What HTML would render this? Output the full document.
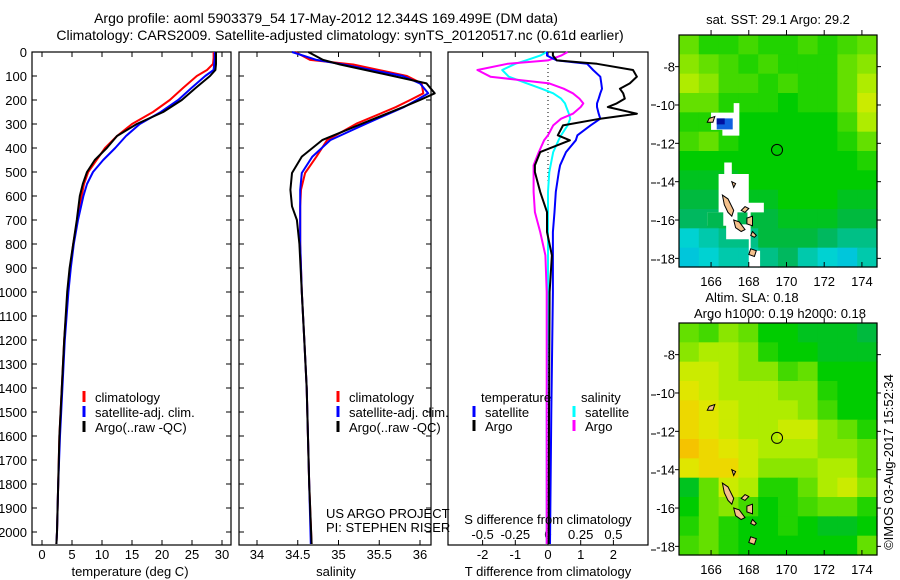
<!DOCTYPE html>
<html><head><meta charset="utf-8">
<style>
html,body{margin:0;padding:0;background:#fff;}
svg{display:block;font-family:"Liberation Sans",sans-serif;}
</style></head>
<body>
<svg id="fig" width="900" height="580" viewBox="0 0 900 580">
<text x="326" y="23" font-size="14" text-anchor="middle">Argo profile: aoml 5903379_54 17-May-2012 12.344S 169.499E (DM data)</text>
<text x="340" y="40" font-size="14" text-anchor="middle">Climatology: CARS2009. Satellite-adjusted climatology: synTS_20120517.nc (0.61d earlier)</text>
<g id="p1"></g>
<g id="p2"></g>
<g id="p3"></g>
<g id="m1"></g>
<g id="m2"></g>
<text transform="translate(893,462) rotate(-90)" font-size="13" text-anchor="middle">©IMOS 03-Aug-2017 15:52:34</text>
</svg>
<script>
// ---- data ----
const tDepth = [0,25,50,75,100,150,200,250,300,350,400,450,500,550,600,700,800,900,1000,1200,1400,1600,1800,2000,2050];
const tClim = [28.6,28.6,28.5,27.5,25.8,23.5,21.3,18.5,15.0,12.5,10.5,9.1,7.7,7.0,6.6,5.9,5.2,4.7,4.3,3.7,3.3,2.9,2.7,2.5,2.4];
const tSat  = [28.8,28.8,28.7,28.6,27.2,24.9,22.7,19.8,16.3,14.0,12.2,10.2,8.5,7.5,6.9,6.0,5.3,4.8,4.4,3.8,3.4,3.0,2.7,2.5,2.4];
const tArgo = [29.0,29.0,29.0,28.9,28.0,25.6,23.3,20.2,15.8,12.5,10.8,8.8,7.5,6.8,6.3,5.8,5.2,4.6,4.2,3.7,3.3,2.9,2.7,2.5,2.4];
const sDepth = [0,33,52,100,131,172,200,230,297,367,436,504,574,643,700,800,1000,1200,1400,1800,2050];
const sClim = [34.47,34.65,35.18,35.84,36.02,36.04,35.88,35.70,35.23,34.86,34.73,34.59,34.54,34.53,34.53,34.53,34.55,34.58,34.61,34.64,34.67];
const sSat  = [34.43,34.73,35.06,35.79,36.00,36.10,35.96,35.80,35.35,34.90,34.68,34.55,34.53,34.53,34.53,34.53,34.55,34.58,34.61,34.64,34.66];
const sArgo = [34.63,34.81,35.02,35.67,36.08,36.18,36.00,35.79,35.30,34.80,34.55,34.43,34.41,34.43,34.49,34.52,34.55,34.58,34.61,34.64,34.67];
const dDepth = [0,15,35,49,75,103,131,153,172,194,214,229,257,278,306,347,368,417,472,500,583,667,750,847,1000,1500,2050];
const dTArgo = [0.15,0.15,0.27,1.5,2.6,2.72,2.5,2.2,2.3,2.35,2.1,1.83,2.72,1.6,0.46,0.3,0.67,-0.24,-0.4,-0.4,-0.24,-0.03,-0.03,0.12,0.05,0.03,0.02];
const dTSat  = [-0.03,-0.03,0.27,1.2,1.38,1.6,1.63,1.65,1.6,1.55,1.5,1.5,1.55,1.6,1.3,0.9,0.85,0.55,0.37,0.33,0.24,0.2,0.15,0.15,0.15,0.1,0.06];
const dSArgo = [0.15,0.1,0.0,-0.31,-0.54,-0.44,0.01,0.12,0.19,0.24,0.27,0.25,0.19,0.1,0.04,0.0,-0.03,-0.07,-0.11,-0.11,-0.11,-0.1,-0.06,-0.02,-0.01,-0.01,-0.01];
const dSSat  = [-0.01,-0.06,-0.17,-0.25,-0.35,-0.3,-0.16,-0.05,0.04,0.1,0.13,0.14,0.16,0.17,0.15,0.1,0.08,0.04,0.02,0.01,0.0,0.0,0.0,0.0,0.0,-0.01,-0.01];
const depthTicks = [0,100,200,300,400,500,600,700,800,900,1000,1100,1200,1300,1400,1500,1600,1700,1800,1900,2000];
const tempTicks = [0,5,10,15,20,25,30];
const salTicks = [34,34.5,35,35.5,36];
const dTTicks = [-2,-1,0,1,2];
const dSTicks = [-0.5,-0.25,0,0.25,0.5];
const dSTickLabels = ["-0.5","-0.25","0","0.25","0.5"];
const lonTicks = [166,168,170,172,174];
const latTicks = [-8,-10,-12,-14,-16,-18];
const sstGrid = [
[.7,.6,.6,.65,.6,.6,.65,.6,.65,.7],
[.75,.7,.65,.6,.65,.6,.6,.6,.7,.75],
[.8,.75,.65,.65,.6,.65,.6,.6,.7,.8],
[.7,.7,.6,.6,.6,.55,.6,.6,.7,.85],
[.6,.6,.6,.55,.55,.55,.55,.55,.65,.8],
[.65,.7,.6,.55,.55,.55,.55,.55,.6,.7],
[.55,.55,.55,.55,.55,.55,.55,.55,.55,.6],
[.5,.5,.5,.55,.55,.55,.55,.55,.55,.55],
[.45,.45,.5,.5,.5,.55,.55,.55,.5,.5],
[.4,.4,.45,.45,.45,.5,.5,.5,.45,.45],
[.25,.3,.35,.35,.45,.45,.45,.4,.35,.35],
[.2,.25,.3,.3,.35,.4,.3,.25,.2,.3]];
const slaGrid = [
[.7,.65,.75,.7,.55,.55,.5,.5,.5,.45],
[.75,.8,.8,.75,.6,.55,.55,.5,.5,.5],
[.85,.85,.8,.75,.75,.65,.7,.55,.55,.55],
[.9,.85,.8,.8,.8,.75,.75,.6,.55,.55],
[.95,.9,.85,.8,.8,.8,.75,.65,.55,.55],
[.95,.9,.85,.8,.8,.85,.85,.75,.7,.6],
[1,.95,.9,.85,.8,.8,.8,.75,.75,.7],
[.9,.95,.95,.85,.75,.75,.75,.8,.8,.7],
[.5,.7,.85,.8,.6,.6,.7,.8,.85,.75],
[.55,.7,.75,.65,.55,.6,.65,.7,.7,.6],
[.6,.7,.6,.55,.55,.6,.55,.5,.5,.55],
[.65,.7,.6,.55,.55,.55,.55,.55,.55,.7]];
const floatLon = 169.499, floatLat = -12.344;

// ---- helpers ----
const NS="http://www.w3.org/2000/svg";
function mk(parent,tag,attrs,text){const e=document.createElementNS(NS,tag);for(const k in attrs)e.setAttribute(k,attrs[k]);if(text!==undefined)e.textContent=text;parent.appendChild(e);return e;}
const Y0=52, PY=0.24, YB=545;
const yD = d => Y0 + d*PY;

function frame(g,x0,x1,name){
  const r=mk(g,'rect',{x:x0,y:Y0,width:x1-x0,height:YB-Y0,fill:'none',stroke:'#000','stroke-width':1.2});
  
  
}
function line(g,xs,ds,xf,color,name,w){
  const pts=xs.map((v,i)=>xf(v).toFixed(1)+','+yD(ds[i]).toFixed(1)).join(' ');
  const p=mk(g,'polyline',{points:pts,fill:'none',stroke:color,'stroke-width':w||2,'stroke-linejoin':'round'});
  
  
}
function xTicks(g,ticks,labels,xf,x0,x1,ly,name,top){
  ticks.forEach((t,i)=>{
    const x=xf(t);
    mk(g,'line',{x1:x,x2:x,y1:YB,y2:YB-5,stroke:'#000'});
    if(top) mk(g,'line',{x1:x,x2:x,y1:Y0,y2:Y0+5,stroke:'#000'});
    if(ly){const tx=mk(g,'text',{x:x,y:ly,'font-size':13,'text-anchor':'middle'},labels[i]);
    
    }
  });
}
function yTicks(g,x0,x1,labels){
  depthTicks.forEach(d=>{
    mk(g,'line',{x1:x0,x2:x0+5,y1:yD(d),y2:yD(d),stroke:'#000'});
    mk(g,'line',{x1:x1,x2:x1-5,y1:yD(d),y2:yD(d),stroke:'#000'});
    if(labels){const t=mk(g,'text',{x:27,y:yD(d)+5,'font-size':13,'text-anchor':'end'},String(d));
    
    }
  });
}
function legendEntry(g,x,y,color,label){
  const b=mk(g,'line',{x1:x,x2:x,y1:y-11,y2:y,stroke:color,'stroke-width':3});
  
  
  const t=mk(g,'text',{x:x+11,y:y,'font-size':13},label);
  
  
}

// ---- panel 1: temperature ----
const p1=document.getElementById('p1');
const xT = v => 42 + 6*v;
frame(p1,32,231,'temperature-plot-frame');
yTicks(p1,32,231,true);
xTicks(p1,tempTicks,tempTicks.map(String),xT,32,231,559,'temperature-tick-label',true);
line(p1,tClim,tDepth,xT,'#ff0000','temperature-climatology-line');
line(p1,tSat,tDepth,xT,'#0000ff','temperature-satellite-line');
line(p1,tArgo,tDepth,xT,'#000000','temperature-argo-line');
legendEntry(p1,84,402,'#ff0000','climatology');
legendEntry(p1,84,417,'#0000ff','satellite-adj. clim.');
legendEntry(p1,84,432,'#000000','Argo(..raw -QC)');
let t=mk(p1,'text',{x:130,y:576,'font-size':13,'text-anchor':'middle'},'temperature (deg C)');



// ---- panel 2: salinity ----
const p2=document.getElementById('p2');
const xS = v => 257 + 81.5*(v-34);
frame(p2,239,431,'salinity-plot-frame');
yTicks(p2,239,431,false);
xTicks(p2,salTicks,salTicks.map(String),xS,239,431,559,'salinity-tick-label',true);
line(p2,sClim,sDepth,xS,'#ff0000','salinity-climatology-line');
line(p2,sSat,sDepth,xS,'#0000ff','salinity-satellite-line');
line(p2,sArgo,sDepth,xS,'#000000','salinity-argo-line');
legendEntry(p2,338,402,'#ff0000','climatology');
legendEntry(p2,338,417,'#0000ff','satellite-adj. clim.');
legendEntry(p2,338,432,'#000000','Argo(..raw -QC)');
t=mk(p2,'text',{x:326,y:518,'font-size':13},'US ARGO PROJECT');


t=mk(p2,'text',{x:326,y:532,'font-size':13},'PI: STEPHEN RISER');


t=mk(p2,'text',{x:336,y:576,'font-size':13,'text-anchor':'middle'},'salinity');



// ---- panel 3: differences ----
const p3=document.getElementById('p3');
const xDT = v => 548 + 32.7*v;
const xDS = v => 548 + 130.8*v;
frame(p3,448,648,'difference-plot-frame');
mk(p3,'line',{x1:548,x2:548,y1:Y0,y2:YB,stroke:'#000','stroke-dasharray':'1,3'});
xTicks(p3,dTTicks,dTTicks.map(String),xDT,448,648,559,'t-difference-tick-label',true);
dSTicks.forEach((s,i)=>{const tx=mk(p3,'text',{x:xDS(s),y:539,'font-size':13,'text-anchor':'middle'},dSTickLabels[i]);

});
[105,144,183,221,260,395,434,473,550].forEach(y=>mk(p3,'line',{x1:651,x2:656,y1:y,y2:y,stroke:'#000'}));
line(p3,dSSat,dDepth,xDS,'#00ffff','salinity-satellite-difference-line');
line(p3,dSArgo,dDepth,xDS,'#ff00ff','salinity-argo-difference-line');
line(p3,dTSat,dDepth,xDT,'#0000ff','temperature-satellite-difference-line');
line(p3,dTArgo,dDepth,xDT,'#000000','temperature-argo-difference-line');
t=mk(p3,'text',{x:481,y:402,'font-size':13},'temperature');


t=mk(p3,'text',{x:581,y:402,'font-size':13},'salinity');


legendEntry(p3,474,417,'#0000ff','satellite');
legendEntry(p3,574,417,'#00ffff','satellite');
legendEntry(p3,474,431,'#000000','Argo');
legendEntry(p3,574,431,'#ff00ff','Argo');
t=mk(p3,'text',{x:548,y:524,'font-size':13,'text-anchor':'middle'},'S difference from climatology');


t=mk(p3,'text',{x:548,y:576,'font-size':13,'text-anchor':'middle'},'T difference from climatology');



// ---- maps ----
const stops=[[0,[0,150,255]],[0.25,[0,210,210]],[0.42,[0,180,80]],[0.55,[0,204,0]],[0.7,[100,224,0]],[0.82,[190,238,0]],[0.92,[232,228,0]],[1,[245,195,0]]];
function cmap(v){for(let i=1;i<stops.length;i++){if(v<=stops[i][0]){const a=stops[i-1],b=stops[i],f=(v-a[0])/(b[0]-a[0]);return 'rgb('+a[1].map((c,k)=>Math.round(c+(b[1][k]-c)*f)).join(',')+')';}}return 'rgb(245,195,0)';}
const MX0=679,MX1=877,LON0=164.3,LON1=174.8,LAT0=-6.35,LAT1=-18.45;
function drawMap(g,grid,top,title,dy,isSST){
  const H=232, bot=top+H;
  const xL=lon=>MX0+(lon-LON0)/(LON1-LON0)*(MX1-MX0);
  const yL=lat=>top+(lat-LAT0)/(LAT1-LAT0)*H;
  const rows=grid.length, cols=grid[0].length, cw=(MX1-MX0)/cols, ch=H/rows;
  grid.forEach((row,r)=>row.forEach((v,c)=>{
    const cell=mk(g,'rect',{x:(MX0+c*cw).toFixed(2),y:(top+r*ch).toFixed(2),width:(cw+0.6).toFixed(2),height:(ch+0.6).toFixed(2),fill:cmap(v)});
    
    
  }));
  if(isSST){
    mk(g,'polygon',{points:`${xL(166.0)},${yL(-10.4)} ${xL(167.2)},${yL(-10.4)} ${xL(167.2)},${yL(-9.9)} ${xL(167.5)},${yL(-9.9)} ${xL(167.5)},${yL(-11.6)} ${xL(166.6)},${yL(-11.6)} ${xL(166.6)},${yL(-11.3)} ${xL(166.0)},${yL(-11.3)}`,fill:'#fff'});
    mk(g,'rect',{x:xL(166.3),y:yL(-10.7),width:16,height:11,fill:'#1060e0'});
    mk(g,'rect',{x:xL(166.3),y:yL(-10.7),width:8,height:6,fill:'#0010a0'});
    mk(g,'polygon',{points:`${xL(166.7)},${yL(-13.0)} ${xL(167.1)},${yL(-13.0)} ${xL(167.1)},${yL(-13.6)} ${xL(168.0)},${yL(-13.6)} ${xL(168.0)},${yL(-15.1)} ${xL(168.8)},${yL(-15.1)} ${xL(168.8)},${yL(-15.6)} ${xL(168.1)},${yL(-15.6)} ${xL(168.1)},${yL(-17.6)} ${xL(168.6)},${yL(-17.6)} ${xL(168.6)},${yL(-18.45)} ${xL(168.0)},${yL(-18.45)} ${xL(168.0)},${yL(-17.0)} ${xL(166.8)},${yL(-17.0)} ${xL(166.8)},${yL(-16.3)} ${xL(165.8)},${yL(-16.3)} ${xL(165.8)},${yL(-15.6)} ${xL(166.4)},${yL(-15.6)} ${xL(166.4)},${yL(-13.6)} ${xL(166.7)},${yL(-13.6)}`,fill:'#fff'});
    mk(g,'rect',{x:xL(165.8),y:yL(-15.6),width:16,height:15,fill:'#00b850'});
    mk(g,'rect',{x:xL(167.4),y:yL(-15.6),width:10,height:12,fill:'#00b850'});
  }
  const islands=[
    [[166.6,-14.7],[166.9,-14.9],[167.2,-15.5],[167.1,-15.8],[166.9,-15.6],[166.7,-15.2]],
    [[167.2,-16.0],[167.5,-16.1],[167.8,-16.5],[167.6,-16.6],[167.3,-16.4]],
    [[168.1,-17.5],[168.4,-17.6],[168.3,-17.9],[168.0,-17.8]],
    [[167.9,-15.9],[168.2,-15.8],[168.2,-16.3],[167.9,-16.2]],
    [[167.8,-15.3],[168.0,-15.4],[167.8,-15.6],[167.6,-15.5]],
    [[168.2,-16.6],[168.4,-16.8],[168.3,-16.9],[168.1,-16.8]],
    [[165.9,-10.7],[166.2,-10.6],[166.1,-10.9],[165.8,-10.9]],
    [[167.1,-14.0],[167.3,-14.1],[167.2,-14.3]]
  ];
  islands.forEach(isl=>{
    const p=mk(g,'polygon',{points:isl.map(q=>xL(q[0]).toFixed(1)+','+yL(q[1]).toFixed(1)).join(' '),fill:'#f4c08c',stroke:'#000','stroke-width':1});
    
    
  });
  const c=mk(g,'circle',{cx:xL(floatLon),cy:yL(floatLat),r:5.5,fill:'none',stroke:'#000','stroke-width':1});
  
  
  mk(g,'rect',{x:MX0,y:top,width:MX1-MX0,height:H,fill:'none',stroke:'#000','stroke-width':1.2});
  lonTicks.forEach(l=>{
    const x=xL(l);
    mk(g,'line',{x1:x,x2:x,y1:bot,y2:bot-5,stroke:'#000'});
    mk(g,'line',{x1:x,x2:x,y1:top,y2:top-5,stroke:'#000'});
    const tx=mk(g,'text',{x:x,y:bot+19,'font-size':13,'text-anchor':'middle'},String(l));
    
    
  });
  latTicks.forEach(l=>{
    const y=yL(l);
    mk(g,'line',{x1:MX0,x2:MX0-4,y1:y,y2:y,stroke:'#000'});
    mk(g,'line',{x1:MX1,x2:MX1+4,y1:y,y2:y,stroke:'#000'});
    const tx=mk(g,'text',{x:675,y:y+5,'font-size':13,'text-anchor':'end'},String(l));
    
    
  });
  title.forEach((s,i)=>{
    const tx=mk(g,'text',{x:s[1],y:s[2],'font-size':13,'text-anchor':'middle'},s[0]);
    
    
  });
}
drawMap(document.getElementById('m1'),sstGrid,35,[['sat. SST: 29.1  Argo: 29.2',778,24]],0,true);
drawMap(document.getElementById('m2'),slaGrid,323,[['Altim. SLA: 0.18',752,302],['Argo h1000: 0.19 h2000: 0.18',780,318]],288,false);
</script>
</body></html>
